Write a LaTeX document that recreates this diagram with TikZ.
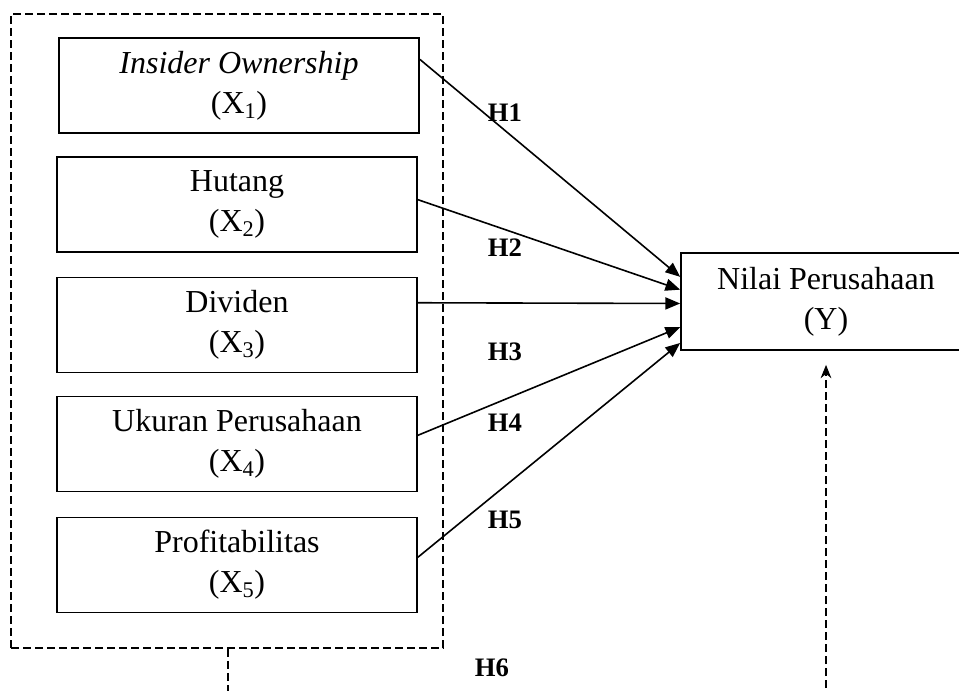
\documentclass[tikz,border=0pt]{standalone}
\usepackage{fontspec}
\setmainfont{Liberation Serif}
\usetikzlibrary{arrows.meta,calc}
\begin{document}
\begin{tikzpicture}[x=0.75pt,y=-0.75pt,
  varbox/.style={draw,line width=1.3pt,minimum width=270pt,minimum height=71.25pt,inner sep=0pt,align=center,font=\fontsize{24}{30}\selectfont},
  groupbox/.style={draw,dash pattern=on 6pt off 3pt,line width=1.2pt,minimum width=324pt,minimum height=475.5pt,inner sep=0pt},
  hlabel/.style={font=\fontsize{20}{24}\selectfont\bfseries,inner sep=0pt},
  link/.style={line width=1.2pt,-{Triangle[length=11pt,width=9pt]}},
  dlink/.style={line width=1.2pt,dash pattern=on 6pt off 3pt}]
\useasboundingbox (0,0) rectangle (959,690);
\clip (0,0) rectangle (959,690);
\node[groupbox] (grp) at (227,331) {};
\node[varbox] (x1) at (239,85.5) {\textit{Insider Ownership}\\(X\textsubscript{1})};
\node[varbox] (x2) at (237,204.5) {Hutang\\(X\textsubscript{2})};
\node[varbox] (x3) at (237,325) {Dividen\\(X\textsubscript{3})};
\node[varbox] (x4) at (237,444) {Ukuran Perusahaan\\(X\textsubscript{4})};
\node[varbox] (x5) at (237,565) {Profitabilitas\\(X\textsubscript{5})};
\node[varbox,minimum width=217.5pt,minimum height=72.75pt] (y) at (826,301.5) {Nilai Perusahaan\\(Y)};
\draw[link] ($(x1.north east)!0.23!(x1.south east)$) -- ($(y.north west)!0.25!(y.south west)$);
\draw[link] ($(x2.north east)!0.45!(x2.south east)$) -- ($(y.north west)!0.38!(y.south west)$);
\draw[link] ($(x3.north east)!0.27!(x3.south east)$) -- ($(y.north west)!0.52!(y.south west)$);
\draw[link] ($(x4.north east)!0.41!(x4.south east)$) -- ($(y.north west)!0.76!(y.south west)$);
\draw[link] ($(x5.north east)!0.42!(x5.south east)$) -- ($(y.north west)!0.92!(y.south west)$);
\node[hlabel] (h1) at (505,113) {H1};
\node[hlabel] (h2) at (505,248) {H2};
\node[hlabel] (h3) at (505,352) {H3};
\node[hlabel] (h4) at (505,423) {H4};
\node[hlabel] (h5) at (505,520) {H5};
\node[hlabel] (h6) at (492,668) {H6};
\coordinate (gfoot) at (228,700);
\coordinate (yfoot) at (826,700);
\draw[dlink] (grp.south -| gfoot) -- (gfoot);
\draw[dlink,-{Stealth[length=10pt,width=8pt]}] (yfoot) -- ($(y.south)+(0,14)$);
\end{tikzpicture}
\end{document}
